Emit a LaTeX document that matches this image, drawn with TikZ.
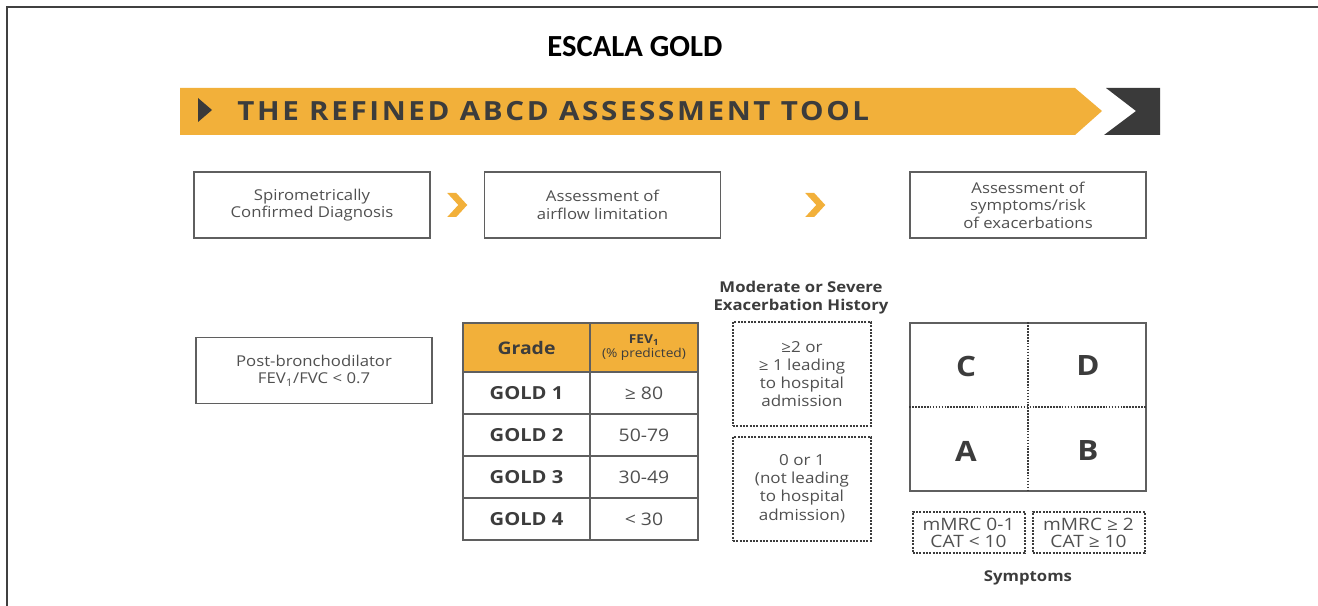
\documentclass[tikz,border=0pt]{standalone}
\usepackage{fontspec}
\setmainfont{Open Sans}[FakeStretch=1.12]
\newfontfamily\titlefont{Carlito}
\usepackage{tikz}
\usetikzlibrary{calc}
\definecolor{goldorange}{RGB}{242,176,58}
\definecolor{banddark}{RGB}{58,58,58}
\definecolor{boxgrey}{RGB}{95,95,95}
\definecolor{textgrey}{RGB}{80,80,80}
\definecolor{headgrey}{RGB}{60,60,60}
\tikzset{
    stepbox/.style={
        draw=boxgrey,
        line width=1pt,
        align=center,
        text=textgrey,
        font=\fontsize{11.2}{13.2}\selectfont,
        minimum width=177pt,
        minimum height=49.5pt
    },
    dotbox/.style={
        draw=headgrey,
        densely dotted,
        line width=1.5pt,
        align=center,
        text=textgrey,
        font=\fontsize{11.4}{13.6}\selectfont,
        minimum width=103.5pt,
        minimum height=78pt
    },
    symbox/.style={
        draw=headgrey,
        densely dotted,
        line width=1.5pt,
        align=center,
        text=textgrey,
        font=\fontsize{12.8}{12.8}\selectfont,
        inner sep=1pt,
        minimum width=84pt,
        minimum height=31pt
    },
    headcell/.style={
        draw=boxgrey,
        line width=1pt,
        fill=goldorange,
        align=center,
        text=headgrey,
        minimum height=36.75pt
    },
    gradecell/.style={
        draw=boxgrey,
        line width=1pt,
        align=center,
        text=headgrey,
        font=\bfseries\fontsize{13.5}{14}\selectfont,
        minimum width=95.25pt,
        minimum height=31.5pt
    },
    valuecell/.style={
        draw=boxgrey,
        line width=1pt,
        align=center,
        text=textgrey,
        font=\fontsize{13}{14}\selectfont,
        minimum width=81pt,
        minimum height=31.5pt
    },
    letter/.style={
        text=headgrey,
        font=\bfseries\fontsize{21}{21}\selectfont
    },
    caption/.style={
        text=headgrey,
        align=center,
        font=\bfseries\fontsize{11.2}{13.5}\selectfont
    }
}

\begin{document}
\begin{tikzpicture}[x=0.75pt,y=-0.75pt]

\useasboundingbox (0,0) rectangle (1318,606);

% frame
\draw[line width=1.5pt, black!75] (7,606) -- (7,7) -- (1318,7);

\node[font=\titlefont\bfseries\fontsize{23}{23}\selectfont] (title) at (635,47)
{ESCALA GOLD};

% ------------------------------------------------------------
% Banner
% ------------------------------------------------------------

\fill[goldorange] (180,88) -- (1075,88) -- (1102,111) -- (1075,135) -- (180,135) -- cycle;
\fill[banddark] (1106,88) -- (1160,88) -- (1160,135) -- (1104,135) -- (1136,111) -- cycle;
\fill[banddark] (198,98) -- (212,110) -- (198,122) -- cycle;

\node[anchor=west, text=headgrey, inner sep=0pt,
      font=\addfontfeatures{LetterSpace=10}\bfseries\fontsize{19.8}{19.8}\selectfont] (bannertext) at (237,111)
{THE REFINED ABCD ASSESSMENT TOOL};

% ------------------------------------------------------------
% Steps
% ------------------------------------------------------------

\node[stepbox] (spiro) at (312,205)
{Spirometrically\\Confirmed Diagnosis};

\node[stepbox] (airflow) at (602.5,205)
{Assessment of\\airflow limitation};

\node[stepbox] (symptoms) at (1028,205)
{Assessment of\\symptoms/risk\\of exacerbations};

\coordinate (chevA) at ($(spiro.east)!0.5!(airflow.west)$);
\coordinate (chevB) at ($(airflow.east)!0.5!(symptoms.west)$);

\fill[goldorange] ($(chevA)+(-10,-12)$) -- ++(9,0) -- ++(11,12) -- ++(-11,12) -- ++(-9,0) -- ++(11,-12) -- cycle;
\fill[goldorange] ($(chevB)+(-10,-12)$) -- ++(9,0) -- ++(11,12) -- ++(-11,12) -- ++(-9,0) -- ++(11,-12) -- cycle;

% ------------------------------------------------------------
% Diagnosis
% ------------------------------------------------------------

\node[stepbox] (ratio) at (314,370.5)
{Post-bronchodilator\\FEV\textsubscript{1}/FVC < 0.7};

% ------------------------------------------------------------
% Airflow grades
% ------------------------------------------------------------

\node[headcell, minimum width=95.25pt, font=\bfseries\fontsize{13}{14}\selectfont] (gradehead) at (526.5,347.5)
{Grade};
\node[headcell, minimum width=81pt, font=\fontsize{9.2}{10}\selectfont] (fevhead) at (644,347.5)
{\textbf{FEV\textsubscript{1}}\\(\% predicted)};

\node[gradecell] (gold1) at (526.5,393) {GOLD 1};
\node[valuecell] (fev1) at (644,393) {≥ 80};

\node[gradecell] (gold2) at (526.5,435) {GOLD 2};
\node[valuecell] (fev2) at (644,435) {50-79};

\node[gradecell] (gold3) at (526.5,477) {GOLD 3};
\node[valuecell] (fev3) at (644,477) {30-49};

\node[gradecell] (gold4) at (526.5,519) {GOLD 4};
\node[valuecell] (fev4) at (644,519) {< 30};

% ------------------------------------------------------------
% Exacerbation history
% ------------------------------------------------------------

\node[caption] (history) at (801,298)
{Moderate or Severe\\Exacerbation History};

\node[dotbox] (high) at (802,374)
{≥2 or\\≥ 1 leading\\to hospital\\admission};

\node[dotbox] (low) at (802,488.5)
{0 or 1\\(not leading\\to hospital\\admission)};

% ------------------------------------------------------------
% ABCD grid
% ------------------------------------------------------------

\node[draw=boxgrey, line width=1pt, minimum width=177pt, minimum height=126pt] (grid) at (1028,407) {};

\draw[headgrey, densely dotted, line width=1.2pt] (grid.west) -- (grid.east);
\draw[headgrey, densely dotted, line width=1.2pt] (grid.north) -- (grid.south);

\node[letter] (groupC) at (966,366) {C};
\node[letter] (groupD) at (1088,366) {D};
\node[letter] (groupA) at (966,451) {A};
\node[letter] (groupB) at (1088,451) {B};

\node[symbox] (mild) at (968.5,532.5)
{mMRC 0-1\\CAT < 10};
\node[symbox] (severe) at (1088.5,532.5)
{mMRC ≥ 2\\CAT ≥ 10};

\node[caption] (symlabel) at (1028,578)
{Symptoms};

\end{tikzpicture}
\end{document}
